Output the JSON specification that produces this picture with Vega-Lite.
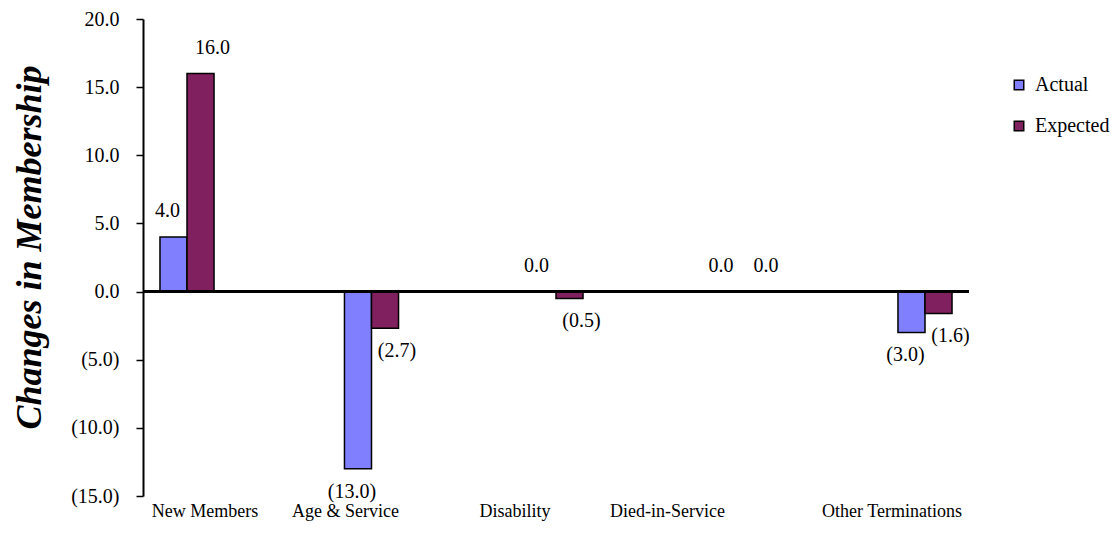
{
  "$schema": "https://vega.github.io/schema/vega-lite/v6.json",
  "width": 826,
  "height": 477,
  "autosize": "none",
  "padding": {"left": 143, "top": 19, "right": 148, "bottom": 37},
  "background": "white",
  "config": {
    "font": "Liberation Serif",
    "view": {"stroke": null}
  },
  "data": {
    "values": [
      {"category": "New Members", "series": "Actual", "value": 4.0},
      {"category": "New Members", "series": "Expected", "value": 16.0},
      {"category": "Age & Service", "series": "Actual", "value": -13.0},
      {"category": "Age & Service", "series": "Expected", "value": -2.7},
      {"category": "Disability", "series": "Actual", "value": 0.0},
      {"category": "Disability", "series": "Expected", "value": -0.5},
      {"category": "Died-in-Service", "series": "Actual", "value": 0.0},
      {"category": "Died-in-Service", "series": "Expected", "value": 0.0},
      {"category": "Other Terminations", "series": "Actual", "value": -3.0},
      {"category": "Other Terminations", "series": "Expected", "value": -1.6}
    ]
  },
  "layer": [
    {
      "mark": {"type": "bar", "stroke": "black", "strokeWidth": 1.5},
      "encoding": {
        "x": {
          "field": "category",
          "type": "nominal",
          "sort": null,
          "scale": {"paddingInner": 0.707, "paddingOuter": 0.092},
          "axis": {
            "title": null,
            "orient": "bottom",
            "domain": false,
            "ticks": false,
            "labelAngle": 0,
            "labelFontSize": 18,
            "labelColor": "black",
            "labelPadding": 6,
            "labelOffset": {"expr": "datum.value == 'New Members' ? 18 : datum.value == 'Age & Service' ? -26 : datum.value == 'Disability' ? -41 : datum.value == 'Died-in-Service' ? -73 : -33"}
          }
        },
        "xOffset": {
          "field": "series",
          "type": "nominal",
          "scale": {"paddingInner": 0, "paddingOuter": 0}
        },
        "y": {
          "field": "value",
          "type": "quantitative",
          "scale": {"domain": [-15, 20], "nice": false},
          "axis": {
            "values": [-15, -10, -5, 0, 5, 10, 15, 20],
            "format": "(.1f",
            "grid": false,
            "domainColor": "black",
            "domainWidth": 2,
            "tickColor": "black",
            "tickWidth": 1.5,
            "tickSize": 7,
            "labelFontSize": 20,
            "labelColor": "black",
            "labelPadding": 17,
            "title": "Changes in Membership",
            "titleFontSize": 36,
            "titleFontWeight": "bold",
            "titleFontStyle": "italic",
            "titleColor": "black",
            "titleAngle": -90,
            "titleAlign": "center",
            "titleBaseline": "middle",
            "titleX": -114,
            "titleY": 228
          }
        },
        "color": {
          "field": "series",
          "type": "nominal",
          "scale": {"domain": ["Actual", "Expected"], "range": ["#8080FF", "#80205F"]},
          "legend": {
            "title": null,
            "orient": "none",
            "legendX": 866,
            "legendY": 56,
            "symbolType": "square",
            "symbolSize": 90,
            "symbolStrokeColor": "black",
            "symbolStrokeWidth": 1.5,
            "symbolOpacity": 1,
            "labelFontSize": 20,
            "labelColor": "black",
            "labelOffset": 6,
            "rowPadding": 21
          }
        }
      }
    },
    {
      "mark": {
        "type": "text",
        "fontSize": 20,
        "color": "black",
        "baseline": "middle",
        "dx": {"expr": "datum.series == 'Actual' ? -6 : 12"},
        "dy": {"expr": "datum.value < 0 ? 23 : -26"}
      },
      "encoding": {
        "x": {"field": "category", "type": "nominal", "sort": null},
        "xOffset": {"field": "series", "type": "nominal"},
        "y": {"field": "value", "type": "quantitative"},
        "text": {"field": "value", "type": "quantitative", "format": "(.1f"}
      }
    },
    {
      "mark": {"type": "rule", "color": "black", "strokeWidth": 2},
      "encoding": {"y": {"datum": 0}}
    }
  ]
}
